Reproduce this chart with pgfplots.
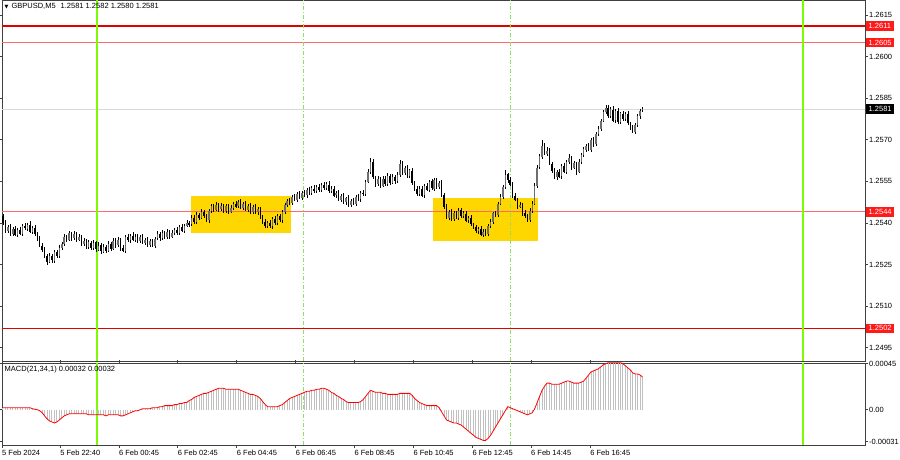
\documentclass[border=0pt]{standalone}
\usepackage{pgfplots}
\pgfplotsset{compat=1.18}
\usepackage{pgfplotstable}
\usepackage{fontspec}
\setmainfont{Liberation Sans}
\newfontfamily\dejavu{DejaVu Sans}
\definecolor{gold}{HTML}{FFD700}
\definecolor{lvl}{HTML}{E00000}
\definecolor{lvlight}{HTML}{FF6A6A}
\definecolor{limeg}{HTML}{7CFC00}
\definecolor{dashg}{HTML}{8FE060}
\definecolor{hist}{HTML}{C0C0C0}
\definecolor{frame}{HTML}{404040}
\definecolor{boxred}{HTML}{FF1A1A}
\definecolor{bull}{HTML}{6E6E6E}

\pgfplotstableread{
i o h l c m
0 1.25425 1.25432 1.25392 1.25400 0.00002
1 1.25400 1.25410 1.25364 1.25370 0.00002
2 1.25370 1.25392 1.25362 1.25385 0.00002
3 1.25385 1.25395 1.25354 1.25360 0.00002
4 1.25360 1.25385 1.25352 1.25378 0.00002
5 1.25378 1.25388 1.25352 1.25358 0.00002
6 1.25358 1.25382 1.25350 1.25375 0.00002
7 1.25375 1.25385 1.25356 1.25362 0.00002
8 1.25362 1.25397 1.25354 1.25390 0.00002
9 1.25390 1.25400 1.25374 1.25380 0.00002
10 1.25380 1.25402 1.25372 1.25395 0.00002
11 1.25395 1.25405 1.25364 1.25370 0.00002
12 1.25370 1.25389 1.25362 1.25382 0.00001
13 1.25382 1.25392 1.25354 1.25360 0.000005
14 1.25360 1.25367 1.25337 1.25345 0.0
15 1.25345 1.25355 1.25314 1.25320 -0.00001
16 1.25320 1.25327 1.25297 1.25305 -0.00003
17 1.25305 1.25315 1.25274 1.25280 -0.00006
18 1.25280 1.25287 1.25248 1.25260 -0.00009
19 1.25260 1.25290 1.25254 1.25280 -0.00011
20 1.25280 1.25287 1.25257 1.25265 -0.00012
21 1.25265 1.25305 1.25259 1.25295 -0.00013
22 1.25295 1.25302 1.25272 1.25280 -0.00012
23 1.25280 1.25320 1.25274 1.25310 -0.00010
24 1.25310 1.25332 1.25302 1.25325 -0.00008
25 1.25325 1.25360 1.25319 1.25350 -0.00006
26 1.25350 1.25357 1.25332 1.25340 -0.00005
27 1.25340 1.25372 1.25334 1.25362 -0.00004
28 1.25362 1.25369 1.25337 1.25345 -0.00004
29 1.25345 1.25370 1.25339 1.25360 -0.00004
30 1.25360 1.25367 1.25332 1.25340 -0.00004
31 1.25340 1.25360 1.25334 1.25350 -0.00004
32 1.25350 1.25357 1.25317 1.25325 -0.00004
33 1.25325 1.25345 1.25319 1.25335 -0.00004
34 1.25335 1.25342 1.25307 1.25315 -0.00004
35 1.25315 1.25340 1.25309 1.25330 -0.00005
36 1.25330 1.25337 1.25302 1.25310 -0.00005
37 1.25310 1.25340 1.25304 1.25330 -0.00005
38 1.25330 1.25337 1.25297 1.25305 -0.00005
39 1.25305 1.25330 1.25299 1.25320 -0.00005
40 1.25320 1.25327 1.25290 1.25298 -0.00005
41 1.25298 1.25325 1.25292 1.25315 -0.00005
42 1.25315 1.25322 1.25292 1.25300 -0.00006
43 1.25300 1.25335 1.25294 1.25325 -0.00005
44 1.25325 1.25332 1.25300 1.25308 -0.00005
45 1.25308 1.25345 1.25302 1.25335 -0.00005
46 1.25335 1.25346 1.25312 1.25320 -0.00005
47 1.25320 1.25350 1.25314 1.25340 -0.00005
48 1.25340 1.25347 1.25302 1.25310 -0.00006
49 1.25310 1.25320 1.25294 1.25300 -0.00006
50 1.25300 1.25357 1.25292 1.25350 -0.00005
51 1.25350 1.25360 1.25332 1.25338 -0.00004
52 1.25338 1.25362 1.25330 1.25355 -0.00003
53 1.25355 1.25365 1.25334 1.25340 -0.00002
54 1.25340 1.25359 1.25332 1.25352 -0.00001
55 1.25352 1.25362 1.25329 1.25335 -0.00001
56 1.25335 1.25357 1.25327 1.25350 0.0
57 1.25350 1.25360 1.25324 1.25330 0.00001
58 1.25330 1.25347 1.25322 1.25340 0.00001
59 1.25340 1.25350 1.25314 1.25320 0.00001
60 1.25320 1.25342 1.25312 1.25335 0.00001
61 1.25335 1.25345 1.25314 1.25320 0.00002
62 1.25320 1.25352 1.25312 1.25345 0.00002
63 1.25345 1.25370 1.25339 1.25360 0.00002
64 1.25360 1.25367 1.25337 1.25345 0.00003
65 1.25345 1.25375 1.25339 1.25365 0.00003
66 1.25365 1.25372 1.25342 1.25350 0.00004
67 1.25350 1.25378 1.25344 1.25368 0.00004
68 1.25368 1.25375 1.25344 1.25352 0.00004
69 1.25352 1.25375 1.25346 1.25365 0.00004
70 1.25365 1.25382 1.25357 1.25375 0.00005
71 1.25375 1.25385 1.25359 1.25365 0.00005
72 1.25365 1.25392 1.25357 1.25385 0.00006
73 1.25385 1.25395 1.25366 1.25372 0.00006
74 1.25372 1.25397 1.25364 1.25390 0.00007
75 1.25390 1.25410 1.25384 1.25400 0.00007
76 1.25400 1.25407 1.25387 1.25395 0.00009
77 1.25395 1.25430 1.25389 1.25420 0.00010
78 1.25420 1.25427 1.25397 1.25405 0.00012
79 1.25405 1.25440 1.25399 1.25430 0.00013
80 1.25430 1.25437 1.25412 1.25420 0.00014
81 1.25420 1.25450 1.25414 1.25440 0.00015
82 1.25440 1.25447 1.25417 1.25425 0.00016
83 1.25425 1.25435 1.25404 1.25410 0.00016
84 1.25410 1.25452 1.25402 1.25445 0.00017
85 1.25445 1.25470 1.25439 1.25460 0.00018
86 1.25460 1.25467 1.25440 1.25448 0.00019
87 1.25448 1.25475 1.25442 1.25465 0.00020
88 1.25465 1.25472 1.25442 1.25450 0.00021
89 1.25450 1.25472 1.25444 1.25462 0.00021
90 1.25462 1.25469 1.25437 1.25445 0.00021
91 1.25445 1.25470 1.25439 1.25460 0.00020
92 1.25460 1.25467 1.25434 1.25442 0.00020
93 1.25442 1.25465 1.25436 1.25455 0.00020
94 1.25455 1.25477 1.25447 1.25470 0.00020
95 1.25470 1.25480 1.25454 1.25460 0.00020
96 1.25460 1.25482 1.25452 1.25475 0.00020
97 1.25475 1.25485 1.25449 1.25455 0.00019
98 1.25455 1.25475 1.25447 1.25468 0.00018
99 1.25468 1.25478 1.25442 1.25448 0.00017
100 1.25448 1.25469 1.25440 1.25462 0.00016
101 1.25462 1.25472 1.25434 1.25440 0.00015
102 1.25440 1.25465 1.25432 1.25458 0.00015
103 1.25458 1.25468 1.25432 1.25438 0.00014
104 1.25438 1.25457 1.25430 1.25450 0.00013
105 1.25450 1.25460 1.25414 1.25420 0.00011
106 1.25420 1.25427 1.25397 1.25405 0.00008
107 1.25405 1.25415 1.25384 1.25390 0.00005
108 1.25390 1.25407 1.25382 1.25400 0.00003
109 1.25400 1.25410 1.25382 1.25388 0.00003
110 1.25388 1.25422 1.25380 1.25415 0.00003
111 1.25415 1.25425 1.25394 1.25400 0.00003
112 1.25400 1.25432 1.25392 1.25425 0.00003
113 1.25425 1.25435 1.25404 1.25410 0.00004
114 1.25410 1.25447 1.25402 1.25440 0.00005
115 1.25440 1.25475 1.25434 1.25465 0.00007
116 1.25465 1.25487 1.25457 1.25480 0.00009
117 1.25480 1.25490 1.25466 1.25472 0.00011
118 1.25472 1.25502 1.25464 1.25495 0.00012
119 1.25495 1.25505 1.25479 1.25485 0.00013
120 1.25485 1.25512 1.25477 1.25505 0.00014
121 1.25505 1.25515 1.25486 1.25492 0.00015
122 1.25492 1.25517 1.25484 1.25510 0.00016
123 1.25510 1.25520 1.25494 1.25500 0.00017
124 1.25500 1.25527 1.25492 1.25520 0.00018
125 1.25520 1.25530 1.25502 1.25508 0.00018
126 1.25508 1.25532 1.25500 1.25525 0.00019
127 1.25525 1.25535 1.25509 1.25515 0.00019
128 1.25515 1.25537 1.25507 1.25530 0.00020
129 1.25530 1.25540 1.25514 1.25520 0.00020
130 1.25520 1.25545 1.25512 1.25538 0.00021
131 1.25538 1.25548 1.25519 1.25525 0.00021
132 1.25525 1.25548 1.25517 1.25540 0.00020
133 1.25540 1.25550 1.25509 1.25515 0.00019
134 1.25515 1.25532 1.25507 1.25525 0.00017
135 1.25525 1.25535 1.25494 1.25500 0.00016
136 1.25500 1.25517 1.25492 1.25510 0.00014
137 1.25510 1.25520 1.25479 1.25485 0.00013
138 1.25485 1.25507 1.25477 1.25500 0.00011
139 1.25500 1.25510 1.25469 1.25475 0.00010
140 1.25475 1.25497 1.25467 1.25490 0.00008
141 1.25490 1.25500 1.25459 1.25465 0.00007
142 1.25465 1.25487 1.25457 1.25480 0.00007
143 1.25480 1.25490 1.25464 1.25470 0.00007
144 1.25470 1.25502 1.25462 1.25495 0.00007
145 1.25495 1.25505 1.25479 1.25485 0.00007
146 1.25485 1.25517 1.25477 1.25510 0.00008
147 1.25510 1.25520 1.25499 1.25505 0.00010
148 1.25505 1.25557 1.25497 1.25550 0.00013
149 1.25550 1.25595 1.25544 1.25585 0.00016
150 1.25585 1.25635 1.25577 1.25620 0.00019
151 1.25620 1.25630 1.25559 1.25565 0.00018
152 1.25565 1.25572 1.25532 1.25540 0.00017
153 1.25540 1.25568 1.25534 1.25558 0.00017
154 1.25558 1.25565 1.25527 1.25535 0.00017
155 1.25535 1.25570 1.25529 1.25560 0.00016
156 1.25560 1.25567 1.25532 1.25540 0.00016
157 1.25540 1.25580 1.25534 1.25570 0.00015
158 1.25570 1.25577 1.25537 1.25545 0.00015
159 1.25545 1.25575 1.25539 1.25565 0.00015
160 1.25565 1.25572 1.25542 1.25550 0.00015
161 1.25550 1.25585 1.25544 1.25575 0.00015
162 1.25575 1.25627 1.25567 1.25615 0.00016
163 1.25615 1.25625 1.25574 1.25580 0.00016
164 1.25580 1.25607 1.25572 1.25600 0.00016
165 1.25600 1.25610 1.25564 1.25570 0.00016
166 1.25570 1.25597 1.25562 1.25590 0.00016
167 1.25590 1.25600 1.25539 1.25545 0.00014
168 1.25545 1.25552 1.25517 1.25525 0.00011
169 1.25525 1.25535 1.25499 1.25505 0.00009
170 1.25505 1.25532 1.25497 1.25525 0.00007
171 1.25525 1.25535 1.25494 1.25500 0.00006
172 1.25500 1.25542 1.25492 1.25535 0.00005
173 1.25535 1.25545 1.25514 1.25520 0.00004
174 1.25520 1.25557 1.25512 1.25550 0.00004
175 1.25550 1.25560 1.25519 1.25525 0.00004
176 1.25525 1.25562 1.25517 1.25555 0.00004
177 1.25555 1.25565 1.25524 1.25530 0.00004
178 1.25530 1.25552 1.25522 1.25545 0.00002
179 1.25545 1.25555 1.25494 1.25500 -0.00002
180 1.25500 1.25507 1.25452 1.25460 -0.00006
181 1.25460 1.25470 1.25414 1.25420 -0.00010
182 1.25420 1.25447 1.25412 1.25440 -0.00011
183 1.25440 1.25450 1.25409 1.25415 -0.00012
184 1.25415 1.25442 1.25407 1.25435 -0.00013
185 1.25435 1.25445 1.25414 1.25420 -0.00013
186 1.25420 1.25452 1.25412 1.25445 -0.00014
187 1.25445 1.25455 1.25419 1.25425 -0.00015
188 1.25425 1.25442 1.25417 1.25435 -0.00017
189 1.25435 1.25445 1.25404 1.25410 -0.00019
190 1.25410 1.25427 1.25402 1.25420 -0.00021
191 1.25420 1.25430 1.25389 1.25395 -0.00023
192 1.25395 1.25402 1.25377 1.25385 -0.00025
193 1.25385 1.25395 1.25364 1.25370 -0.00027
194 1.25370 1.25385 1.25362 1.25378 -0.00028
195 1.25378 1.25388 1.25352 1.25358 -0.00029
196 1.25358 1.25377 1.25350 1.25370 -0.00030
197 1.25370 1.25380 1.25354 1.25360 -0.00030
198 1.25360 1.25397 1.25352 1.25390 -0.00028
199 1.25390 1.25415 1.25384 1.25405 -0.00025
200 1.25405 1.25442 1.25397 1.25435 -0.00021
201 1.25435 1.25445 1.25424 1.25430 -0.00017
202 1.25430 1.25477 1.25422 1.25470 -0.00013
203 1.25470 1.25505 1.25464 1.25495 -0.00009
204 1.25495 1.25537 1.25487 1.25530 -0.00005
205 1.25530 1.25591 1.25524 1.25575 -0.00001
206 1.25575 1.25582 1.25547 1.25555 0.00003
207 1.25555 1.25565 1.25534 1.25540 0.00002
208 1.25540 1.25547 1.25492 1.25500 0.00001
209 1.25500 1.25510 1.25479 1.25485 0.0
210 1.25485 1.25492 1.25452 1.25460 -0.00001
211 1.25460 1.25475 1.25454 1.25465 -0.00002
212 1.25465 1.25472 1.25427 1.25435 -0.00003
213 1.25435 1.25445 1.25419 1.25425 -0.00004
214 1.25425 1.25432 1.25402 1.25410 -0.00005
215 1.25410 1.25455 1.25404 1.25445 -0.00004
216 1.25445 1.25480 1.25437 1.25470 -0.00003
217 1.25470 1.25545 1.25464 1.25535 0.00001
218 1.25535 1.25610 1.25527 1.25600 0.00007
219 1.25600 1.25650 1.25594 1.25640 0.00013
220 1.25640 1.25700 1.25632 1.25680 0.00019
221 1.25680 1.25690 1.25644 1.25650 0.00023
222 1.25650 1.25674 1.25642 1.25660 0.00026
223 1.25660 1.25670 1.25609 1.25615 0.00026
224 1.25615 1.25622 1.25582 1.25590 0.00025
225 1.25590 1.25600 1.25559 1.25565 0.00025
226 1.25565 1.25592 1.25557 1.25585 0.00025
227 1.25585 1.25595 1.25562 1.25568 0.00025
228 1.25568 1.25612 1.25560 1.25605 0.00026
229 1.25605 1.25615 1.25579 1.25585 0.00027
230 1.25585 1.25627 1.25577 1.25620 0.00028
231 1.25620 1.25650 1.25614 1.25635 0.00028
232 1.25635 1.25642 1.25592 1.25600 0.00027
233 1.25600 1.25625 1.25594 1.25615 0.00026
234 1.25615 1.25622 1.25573 1.25585 0.00026
235 1.25585 1.25630 1.25579 1.25620 0.00026
236 1.25620 1.25652 1.25612 1.25645 0.00027
237 1.25645 1.25675 1.25639 1.25665 0.00028
238 1.25665 1.25687 1.25657 1.25680 0.00031
239 1.25680 1.25690 1.25659 1.25665 0.00034
240 1.25665 1.25707 1.25657 1.25700 0.00037
241 1.25700 1.25710 1.25674 1.25685 0.00038
242 1.25685 1.25727 1.25677 1.25720 0.00039
243 1.25720 1.25750 1.25714 1.25740 0.00040
244 1.25740 1.25777 1.25732 1.25770 0.00042
245 1.25770 1.25810 1.25764 1.25800 0.00044
246 1.25800 1.25826 1.25792 1.25815 0.00045
247 1.25815 1.25825 1.25779 1.25785 0.00046
248 1.25785 1.25817 1.25777 1.25810 0.00046
249 1.25810 1.25820 1.25764 1.25770 0.00046
250 1.25770 1.25812 1.25762 1.25805 0.00046
251 1.25805 1.25815 1.25759 1.25765 0.00046
252 1.25765 1.25802 1.25757 1.25795 0.00046
253 1.25795 1.25805 1.25769 1.25775 0.00045
254 1.25775 1.25802 1.25767 1.25795 0.00043
255 1.25795 1.25805 1.25754 1.25760 0.00041
256 1.25760 1.25767 1.25737 1.25745 0.00039
257 1.25745 1.25755 1.25724 1.25730 0.00036
258 1.25730 1.25762 1.25722 1.25755 0.00035
259 1.25755 1.25795 1.25749 1.25785 0.00035
260 1.25785 1.25812 1.25777 1.25805 0.00034
261 1.25810 1.25820 1.25800 1.25812 0.00032
}\data

\begin{document}
\begin{tikzpicture}[font=\fontsize{7.5}{9}\selectfont]
\useasboundingbox (0,0) rectangle (900pt,460pt);

% ---------------- main price panel ----------------
\begin{axis}[
  at={(2pt,99pt)}, anchor=south west, scale only axis,
  width=863pt, height=361pt,
  xmin=-0.4, xmax=351.8, ymin=1.24902, ymax=1.26204,
  xtick=\empty, scaled y ticks=false,
  ytick={1.2495,1.2510,1.2525,1.2540,1.2555,1.2570,1.2585,1.2600,1.2615},
  yticklabels={1.2495,1.2510,1.2525,1.2540,1.2555,1.2570,1.2585,1.2600,1.2615},
  yticklabel pos=right,
  tick align=outside, major tick length=3pt,
  tick style={frame, line width=0.6pt},
  yticklabel style={anchor=west, inner sep=0pt, xshift=1pt, font=\fontsize{7.5}{9}\selectfont},
  axis line style={frame, line width=0.9pt},
  clip mode=individual,
]
% yellow zones
\fill[gold] (axis cs:76.7,1.25364) rectangle (axis cs:117.6,1.25497);
\fill[gold] (axis cs:175.5,1.25335) rectangle (axis cs:218.4,1.25490);
% horizontal levels
\draw[black!15, line width=0.8pt] (axis cs:-0.4,1.2581) -- (axis cs:351.8,1.2581);
\draw[lvl, line width=1.3pt] (axis cs:-0.4,1.2611) -- (axis cs:351.8,1.2611);
\draw[lvlight, line width=1pt] (axis cs:-0.4,1.2605) -- (axis cs:351.8,1.2605);
\draw[lvlight, line width=1pt] (axis cs:-0.4,1.2544) -- (axis cs:351.8,1.2544);
\draw[lvl, line width=1.3pt] (axis cs:-0.4,1.2502) -- (axis cs:351.8,1.2502);
% vertical separators
\draw[limeg, line width=1.3pt] (axis cs:38.4,1.24902) -- (axis cs:38.4,1.26204);
\draw[limeg, line width=1.3pt] (axis cs:326.5,1.24902) -- (axis cs:326.5,1.26204);
\draw[dashg, line width=0.7pt, dash pattern=on 4pt off 2pt on 1pt off 2pt] (axis cs:122.4,1.24902) -- (axis cs:122.4,1.26204);
\draw[dashg, line width=0.7pt, dash pattern=on 4pt off 2pt on 1pt off 2pt] (axis cs:206.9,1.24902) -- (axis cs:206.9,1.26204);

% wicks
\addplot[draw=none, no marks, forget plot,
  error bars/.cd, y dir=both, y explicit, error mark=none,
  error bar style={draw=black, line width=0.5pt}]
  table[x=i, y expr={(\thisrow{h}+\thisrow{l})/2}, y error expr={(\thisrow{h}-\thisrow{l})/2}] {\data};
% bullish bodies (grey)
\addplot[draw=none, no marks, forget plot,
  x filter/.expression={\thisrow{c}>\thisrow{o} ? x : nan},
  error bars/.cd, y dir=both, y explicit, error mark=none,
  error bar style={draw=bull, line width=1.5pt}]
  table[x=i, y expr={(\thisrow{o}+\thisrow{c})/2}, y error expr={abs(\thisrow{c}-\thisrow{o})/2}] {\data};
% bearish bodies (black)
\addplot[draw=none, no marks, forget plot,
  x filter/.expression={\thisrow{c}>\thisrow{o} ? nan : x},
  error bars/.cd, y dir=both, y explicit, error mark=none,
  error bar style={draw=black, line width=1.5pt}]
  table[x=i, y expr={(\thisrow{o}+\thisrow{c})/2}, y error expr={abs(\thisrow{c}-\thisrow{o})/2}] {\data};

% title
\node[anchor=north west, inner sep=0pt] at (rel axis cs:0,1) [xshift=2.5pt, yshift=-3pt]
  {{\dejavu\fontsize{5}{6}\selectfont ▼}\hspace{3pt}GBPUSD,M5\hspace{5pt}1.2581 1.2582 1.2580 1.2581};
% right-side level labels
\node[anchor=west, fill=boxred, text=white, inner xsep=2.5pt, inner ysep=1pt, minimum height=9.5pt] at (axis cs:351.8,1.2611) [xshift=1pt] {1.2611};
\node[anchor=west, fill=boxred, text=white, inner xsep=2.5pt, inner ysep=1pt, minimum height=9.5pt] at (axis cs:351.8,1.2605) [xshift=1pt] {1.2605};
\node[anchor=west, fill=black, text=white, inner xsep=2.5pt, inner ysep=1pt, minimum height=9.5pt] at (axis cs:351.8,1.2581) [xshift=1pt] {1.2581};
\node[anchor=west, fill=boxred, text=white, inner xsep=2.5pt, inner ysep=1pt, minimum height=9.5pt] at (axis cs:351.8,1.2544) [xshift=1pt] {1.2544};
\node[anchor=west, fill=boxred, text=white, inner xsep=2.5pt, inner ysep=1pt, minimum height=9.5pt] at (axis cs:351.8,1.2502) [xshift=1pt] {1.2502};
\end{axis}

% ---------------- MACD panel ----------------
\begin{axis}[
  at={(2pt,15pt)}, anchor=south west, scale only axis,
  width=863pt, height=82pt,
  xmin=-0.4, xmax=351.8, ymin=-0.000345, ymax=0.000457,
  scaled y ticks=false, scaled x ticks=false,
  ytick={-0.00031,0,0.00045},
  yticklabels={-0.00031,0.00,0.00045},
  yticklabel pos=right,
  xtick={-0.4,23.3,47.3,71.3,95.4,119.5,143.4,167.5,191.6,215.5,239.6},
  xticklabels={5 Feb 2024,5 Feb 22:40,6 Feb 00:45,6 Feb 02:45,6 Feb 04:45,6 Feb 06:45,6 Feb 08:45,6 Feb 10:45,6 Feb 12:45,6 Feb 14:45,6 Feb 16:45},
  xticklabel style={anchor=north west, inner sep=0pt, xshift=0pt, yshift=-1.5pt, font=\fontsize{7.5}{9}\selectfont},
  yticklabel style={anchor=west, inner sep=0pt, xshift=1pt, font=\fontsize{7.5}{9}\selectfont},
  tick align=outside, major tick length=3pt,
  tick style={frame, line width=0.6pt},
  axis line style={frame, line width=0.9pt},
  clip mode=individual,
]
\draw[limeg, line width=1.3pt] (axis cs:38.4,-0.000345) -- (axis cs:38.4,0.000457);
\draw[limeg, line width=1.3pt] (axis cs:326.5,-0.000345) -- (axis cs:326.5,0.000457);
\draw[dashg, line width=0.7pt, dash pattern=on 4pt off 2pt on 1pt off 2pt] (axis cs:122.4,-0.000345) -- (axis cs:122.4,0.000457);
\draw[dashg, line width=0.7pt, dash pattern=on 4pt off 2pt on 1pt off 2pt] (axis cs:206.9,-0.000345) -- (axis cs:206.9,0.000457);
\addplot[ycomb, draw=hist, line width=1pt, mark=none, forget plot] table[x=i, y=m] {\data};
\addplot[red, line width=0.8pt, mark=none, forget plot] table[x=i, y=m] {\data};
\node[anchor=north west, inner sep=0pt] at (rel axis cs:0,1) [xshift=2.5pt, yshift=-3pt] {MACD(21,34,1) 0.00032 0.00032};
\end{axis}
\end{tikzpicture}
\end{document}
